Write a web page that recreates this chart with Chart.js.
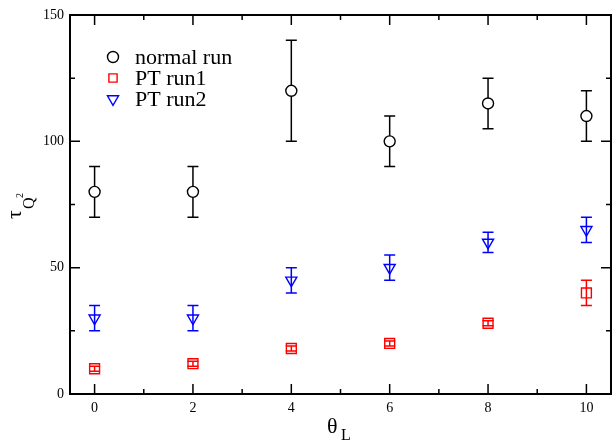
<!DOCTYPE html>
<html><head><meta charset="utf-8">
<script src="https://cdn.jsdelivr.net/npm/chart.js@4/dist/chart.umd.min.js"></script>
<style>html,body{margin:0;padding:0;background:#fff;overflow:hidden}#wrap{width:613px;height:441px}canvas{display:block}</style>
</head><body><div id="wrap"><canvas id="c" width="613" height="441"></canvas></div>
<script>
const thetaL = [0, 2, 4, 6, 8, 10];
const normalRun = [80, 80, 120, 100, 115, 110];
const normalRunErr = [10, 10, 20, 10, 10, 10];
const ptRun1 = [10, 12, 18, 20, 28, 40];
const ptRun1Err = [1, 1, 1, 1, 1, 5];
const ptRun2 = [30, 30, 45, 50, 60, 65];
const ptRun2Err = [5, 5, 5, 5, 4, 5];
const xTicks = [0, 2, 4, 6, 8, 10];
const xMinorTicks = [1, 3, 5, 7, 9];
const yTicks = [0, 50, 100, 150];
const yMinorTicks = [25, 75, 125];
const seriesNames = ['normal run', 'PT run1', 'PT run2'];

const SERIF = '"Liberation Serif", "DejaVu Serif", serif';

const pts = (ys) => thetaL.map((t, i) => ({x: t, y: ys[i]}));

const overlay = {
  id: 'overlay',
  beforeDatasetsDraw(chart) {
    const {ctx, scales: {x, y}} = chart;
    const sets = [[normalRun, normalRunErr, '#000'], [ptRun1, ptRun1Err, '#f00'], [ptRun2, ptRun2Err, '#00f']];
    ctx.save();
    ctx.lineWidth = 1.5;
    sets.forEach(([v, e, c]) => {
      ctx.strokeStyle = c;
      thetaL.forEach((t, i) => {
        const px = x.getPixelForValue(t);
        const y1 = y.getPixelForValue(v[i] + e[i]);
        const y2 = y.getPixelForValue(v[i] - e[i]);
        ctx.beginPath();
        ctx.moveTo(px, y1); ctx.lineTo(px, y2);
        ctx.moveTo(px - 5.5, y1); ctx.lineTo(px + 5.5, y1);
        ctx.moveTo(px - 5.5, y2); ctx.lineTo(px + 5.5, y2);
        ctx.stroke();
      });
    });
    ctx.restore();
  },
  afterDraw(chart) {
    const {ctx, chartArea: a, scales: {x, y}} = chart;
    ctx.save();
    // frame
    ctx.strokeStyle = '#000';
    ctx.lineWidth = 2;
    ctx.strokeRect(a.left, a.top, a.right - a.left, a.bottom - a.top);
    // ticks (inward, all four sides)
    ctx.lineWidth = 1.5;
    ctx.beginPath();
    const xt = (v, len) => { const p = x.getPixelForValue(v); ctx.moveTo(p, a.bottom); ctx.lineTo(p, a.bottom - len); ctx.moveTo(p, a.top); ctx.lineTo(p, a.top + len); };
    const yt = (v, len) => { const p = y.getPixelForValue(v); ctx.moveTo(a.left, p); ctx.lineTo(a.left + len, p); ctx.moveTo(a.right, p); ctx.lineTo(a.right - len, p); };
    xTicks.forEach(v => xt(v, 10));
    xMinorTicks.forEach(v => xt(v, 5));
    yTicks.forEach(v => yt(v, 10));
    yMinorTicks.forEach(v => yt(v, 5));
    ctx.stroke();
    // legend
    const ds = chart.data.datasets;
    ctx.font = '22px ' + SERIF;
    ctx.textBaseline = 'alphabetic';
    ctx.textAlign = 'left';
    const rowsY = [57, 78, 99];
    ds.forEach((d, i) => {
      const r = i === 1 ? 5.8 : d.pointRadius;
      ctx.strokeStyle = d.borderColor;
      ctx.fillStyle = d.pointBackgroundColor || d.backgroundColor;
      ctx.lineWidth = d.pointBorderWidth;
      Chart.helpers.drawPoint(ctx, {pointStyle: d.pointStyle, radius: r, rotation: d.pointRotation || 0, borderWidth: d.pointBorderWidth}, 113, rowsY[i]);
      ctx.fillStyle = '#000';
      ctx.fillText(seriesNames[i], 135, rowsY[i] + 7);
    });
    // x title
    ctx.fillStyle = '#000';
    ctx.font = '22px ' + SERIF;
    ctx.fillText('θ', 327, 433);
    ctx.font = '16px ' + SERIF;
    ctx.fillText('L', 341, 440);
    // y title
    ctx.save();
    ctx.rotate(-Math.PI / 2);
    ctx.font = '22px ' + SERIF;
    ctx.fillText('τ', -219, 21);
    ctx.font = '16px ' + SERIF;
    ctx.fillText('Q', -209, 34);
    ctx.font = '10px ' + SERIF;
    ctx.fillText('2', -198, 23);
    ctx.restore();
    ctx.restore();
  }
};

new Chart(document.getElementById('c'), {
  type: 'scatter',
  data: {
    datasets: [
      {label: seriesNames[0], data: pts(normalRun), pointStyle: 'circle', pointRadius: 5.5, pointBorderWidth: 1.4, borderColor: '#000', backgroundColor: '#fff', pointBackgroundColor: '#fff'},
      {label: seriesNames[1], data: pts(ptRun1), pointStyle: 'rect', pointRadius: 7, pointBorderWidth: 1.4, borderColor: '#f00', backgroundColor: 'rgba(0,0,0,0)'},
      {label: seriesNames[2], data: pts(ptRun2), pointStyle: 'triangle', pointRotation: 180, pointRadius: 6.4, pointBorderWidth: 1.4, borderColor: '#00f', backgroundColor: 'rgba(0,0,0,0)'}
    ]
  },
  options: {
    responsive: false,
    devicePixelRatio: 1,
    animation: false,
    events: [],
    layout: {autoPadding: false, padding: {top: 15, right: 2, left: 0, bottom: 0}},
    plugins: {legend: {display: false}, tooltip: {enabled: false}},
    scales: {
      x: {
        type: 'linear', min: -0.5, max: 10.5,
        grid: {display: false, drawTicks: false, tickLength: 0},
        border: {display: false},
        afterBuildTicks: s => { s.ticks = xTicks.map(v => ({value: v})); },
        afterFit: s => { s.height = 47; s.paddingLeft = 0; s.paddingRight = 0; },
        ticks: {padding: 6, color: '#000', font: {family: SERIF, size: 14}, maxRotation: 0, autoSkip: false}
      },
      y: {
        type: 'linear', min: 0, max: 150,
        grid: {display: false, drawTicks: false, tickLength: 0},
        border: {display: false},
        afterBuildTicks: s => { s.ticks = yTicks.map(v => ({value: v})); },
        afterFit: s => { s.width = 70; s.paddingTop = 0; s.paddingBottom = 0; },
        ticks: {padding: 6, color: '#000', font: {family: SERIF, size: 14}, autoSkip: false}
      }
    }
  },
  plugins: [overlay]
});
</script>
</body></html>
